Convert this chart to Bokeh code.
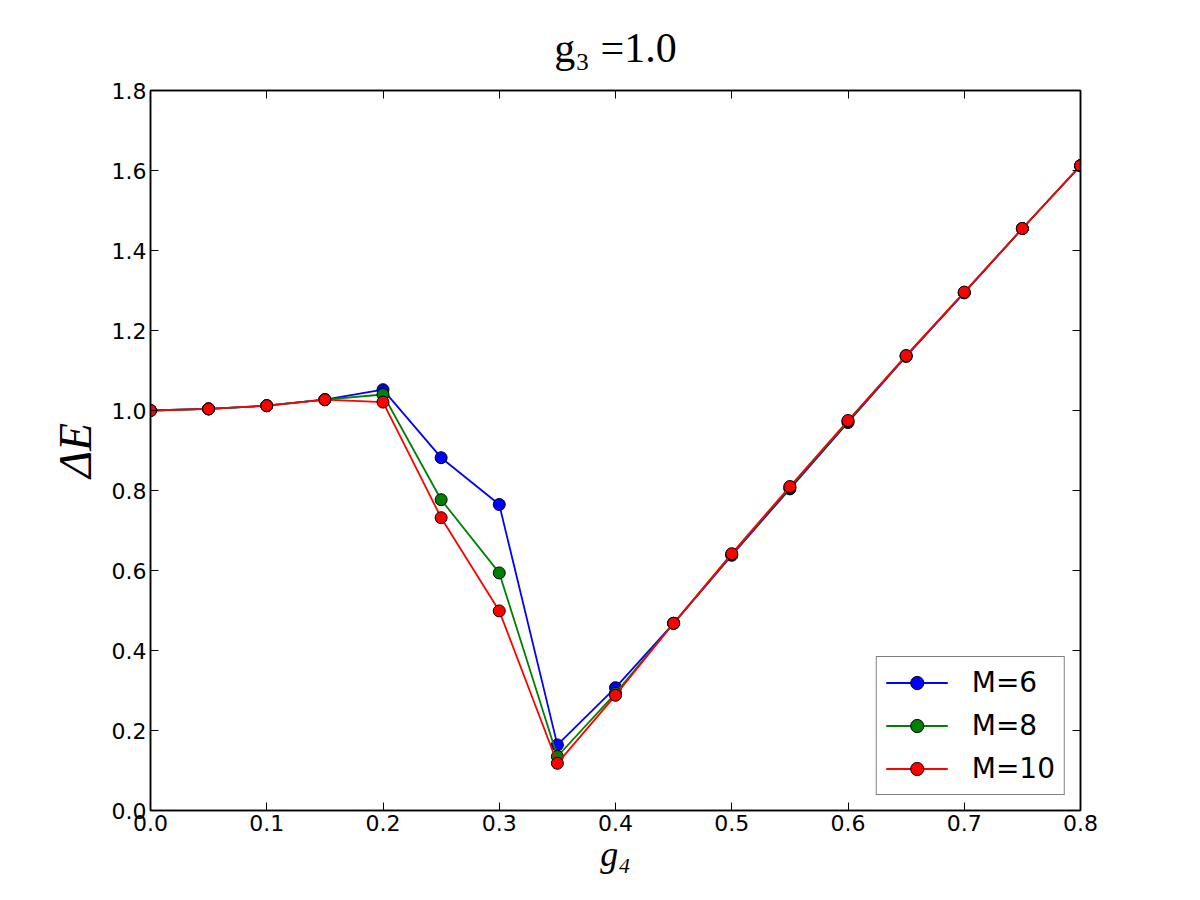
from bokeh.plotting import figure
from bokeh.models import (Range1d, FixedTicker, PrintfTickFormatter, LinearAxis,
                          Legend, LegendItem, Title, ColumnDataSource)
from bokeh.embed import file_html
from bokeh.resources import INLINE

# coupling g4 and energy gap for each truncation M
g4 = [0.0, 0.05, 0.1, 0.15, 0.2, 0.25, 0.3, 0.35, 0.4, 0.45,
      0.5, 0.55, 0.6, 0.65, 0.7, 0.75, 0.8]
gap_m6 = [1.000, 1.004, 1.012, 1.027, 1.052, 0.882, 0.765, 0.164, 0.307, 0.468,
          0.638, 0.804, 0.970, 1.135, 1.294, 1.455, 1.612]
gap_m8 = [1.000, 1.004, 1.012, 1.027, 1.040, 0.777, 0.594, 0.135, 0.293, 0.468,
          0.640, 0.808, 0.973, 1.137, 1.295, 1.455, 1.612]
gap_m10 = [1.000, 1.004, 1.012, 1.027, 1.021, 0.732, 0.499, 0.118, 0.288, 0.468,
           0.642, 0.810, 0.975, 1.137, 1.296, 1.455, 1.612]
series_names = ["M=6", "M=8", "M=10"]
series_colors = ["#0000ff", "#008000", "#ff0000"]
x_ticks = [0.0, 0.1, 0.2, 0.3, 0.4, 0.5, 0.6, 0.7, 0.8]
y_ticks = [0.0, 0.2, 0.4, 0.6, 0.8, 1.0, 1.2, 1.4, 1.6, 1.8]
title_text = "g\u2083 =1.0"
x_label = "g\u2084"
y_label = "\u0394E"

TICK_FONT = "DejaVu Sans"
MATH_FONT = "Liberation Serif"

p = figure(width=1200, height=900, output_backend="svg", toolbar_location=None,
           x_range=Range1d(0, 0.8), y_range=Range1d(0, 1.8),
           min_border_left=150, min_border_right=120,
           min_border_top=90, min_border_bottom=90,
           x_axis_location=None, y_axis_location=None)
p.background_fill_color = "white"
p.border_fill_color = "white"
p.grid.visible = False
p.outline_line_color = "black"
p.outline_line_width = 1.5


def make_axis(show_labels, ticks):
    ax = LinearAxis(ticker=FixedTicker(ticks=ticks),
                    formatter=PrintfTickFormatter(format="%.1f"))
    ax.axis_line_color = "black"
    ax.axis_line_width = 1.5
    ax.major_tick_in = 8
    ax.major_tick_out = 0
    ax.major_tick_line_color = "black"
    ax.major_tick_line_width = 1
    ax.minor_tick_line_color = None
    ax.major_label_text_font = TICK_FONT
    ax.major_label_text_font_size = "22px"
    ax.major_label_text_color = "black"
    ax.major_label_standoff = 4
    ax.axis_label_text_font = MATH_FONT
    ax.axis_label_text_font_style = "italic"
    ax.axis_label_text_color = "black"
    if not show_labels:
        ax.major_label_text_font_size = "0px"
        ax.major_label_text_alpha = 0
    return ax


x_axis = make_axis(True, x_ticks)
x_axis.axis_label = x_label
x_axis.axis_label_text_font_size = "36px"
x_axis.axis_label_standoff = 0
p.add_layout(x_axis, "below")
p.add_layout(make_axis(False, x_ticks), "above")

y_axis = make_axis(True, y_ticks)
y_axis.axis_label = y_label
y_axis.axis_label_text_font_size = "46px"
y_axis.axis_label_standoff = 8
p.add_layout(y_axis, "left")
p.add_layout(make_axis(False, y_ticks), "right")

title = Title(text=title_text, align="center", text_font=MATH_FONT,
              text_font_size="42px", text_font_style="normal",
              text_color="black", standoff=40)
p.add_layout(title, "above")

items = []
for name, color, vals in zip(series_names, series_colors, [gap_m6, gap_m8, gap_m10]):
    src = ColumnDataSource(dict(x=g4, y=vals))
    ln = p.line("x", "y", source=src, line_color=color, line_width=1.8)
    sc = p.scatter("x", "y", source=src, size=12, fill_color=color,
                   line_color="black", line_width=1)
    items.append(LegendItem(label=name, renderers=[ln, sc]))

legend = Legend(items=items, location="bottom_right")
legend.margin = 15
legend.padding = 9
legend.spacing = 10
legend.glyph_width = 62
legend.glyph_height = 33
legend.label_standoff = 24
legend.label_text_font = TICK_FONT
legend.label_text_font_size = "28px"
legend.label_text_color = "black"
legend.label_height = 33
legend.border_line_color = "black"
legend.border_line_width = 1.5
legend.background_fill_alpha = 1
p.add_layout(legend, "center")

open("out.html", "w").write(file_html(p, INLINE))
